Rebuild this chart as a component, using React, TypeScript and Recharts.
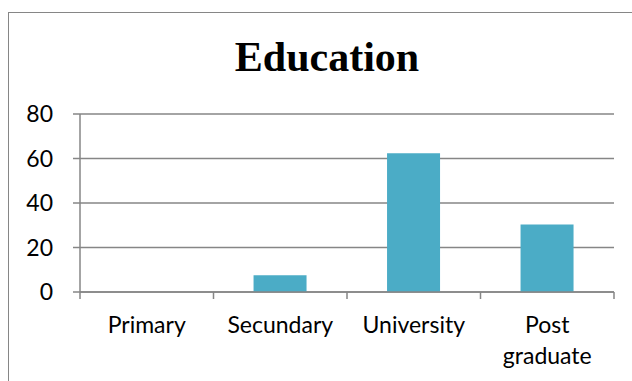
import { BarChart, Bar, XAxis, YAxis, CartesianGrid } from "recharts";

const categories = ["Primary", "Secundary", "University", "Post graduate"];
const values = [0, 7.5, 62.4, 30.3];
const yTicks = [0, 20, 40, 60, 80];

const data = categories.map((name, i) => ({ name, value: values[i] }));

const GRAY = "#868686";
const FONT = "Lato, 'Open Sans', sans-serif";
const FONT_SIZE = 23;

// greedy word wrap, roughly what Excel does for the narrow category slots
function wrapLabel(label: string, maxChars = 12) {
  const lines: string[] = [];
  let cur = "";
  label.split(" ").forEach((w) => {
    if (cur && (cur + " " + w).length > maxChars) {
      lines.push(cur);
      cur = w;
    } else {
      cur = cur ? cur + " " + w : w;
    }
  });
  if (cur) lines.push(cur);
  return lines;
}

function CategoryTick(props: any) {
  const { x, y, payload, index, visibleTicksCount } = props;
  const half = payload.offset || 0;
  const lines = wrapLabel(String(payload.value));
  const isLast = index === visibleTicksCount - 1;
  return (
    <g>
      <line x1={x - half} x2={x - half} y1={y} y2={y + 7} stroke={GRAY} strokeWidth={1.5} />
      {isLast && (
        <line x1={x + half} x2={x + half} y1={y} y2={y + 7} stroke={GRAY} strokeWidth={1.5} />
      )}
      <text
        x={x}
        y={y + 24}
        textAnchor="middle"
        fontSize={FONT_SIZE}
        fontFamily={FONT}
        fill="#000"
      >
        {lines.map((l, i) => (
          <tspan key={i} x={x} dy={i === 0 ? "0.75em" : 31}>
            {l}
          </tspan>
        ))}
      </text>
    </g>
  );
}

export default function App() {
  return (
    <div
      style={{
        position: "fixed",
        left: 8,
        top: 12,
        width: 640,
        height: 400,
        borderLeft: `1.5px solid ${GRAY}`,
        borderTop: `1.5px solid ${GRAY}`,
        background: "#fff",
      }}
    >
      <div
        style={{
          position: "absolute",
          left: 0,
          top: 23,
          width: 636,
          textAlign: "center",
          fontFamily: "'Liberation Serif', 'Times New Roman', serif",
          fontWeight: "bold",
          fontSize: 42,
          lineHeight: "42px",
          color: "#000",
        }}
      >
        Education
      </div>
      <BarChart
        width={624}
        height={368}
        data={data}
        margin={{ top: 101, right: 19, bottom: 0, left: 0 }}
        barCategoryGap="30%"
      >
        <CartesianGrid vertical={false} stroke={GRAY} strokeWidth={1.5} />
        <XAxis
          dataKey="name"
          height={89}
          stroke={GRAY}
          strokeWidth={1.5}
          tickLine={false}
          tickSize={0}
          tickMargin={0}
          interval={0}
          tick={<CategoryTick />}
        />
        <YAxis
          domain={[0, 80]}
          ticks={yTicks}
          width={71}
          tickSize={7}
          tickMargin={20}
          stroke={GRAY}
          strokeWidth={1.5}
          tick={{ fontSize: FONT_SIZE, fontFamily: FONT, fill: "#000" }}
        />
        <Bar dataKey="value" fill="#4BACC6" isAnimationActive={false} />
      </BarChart>
    </div>
  );
}
